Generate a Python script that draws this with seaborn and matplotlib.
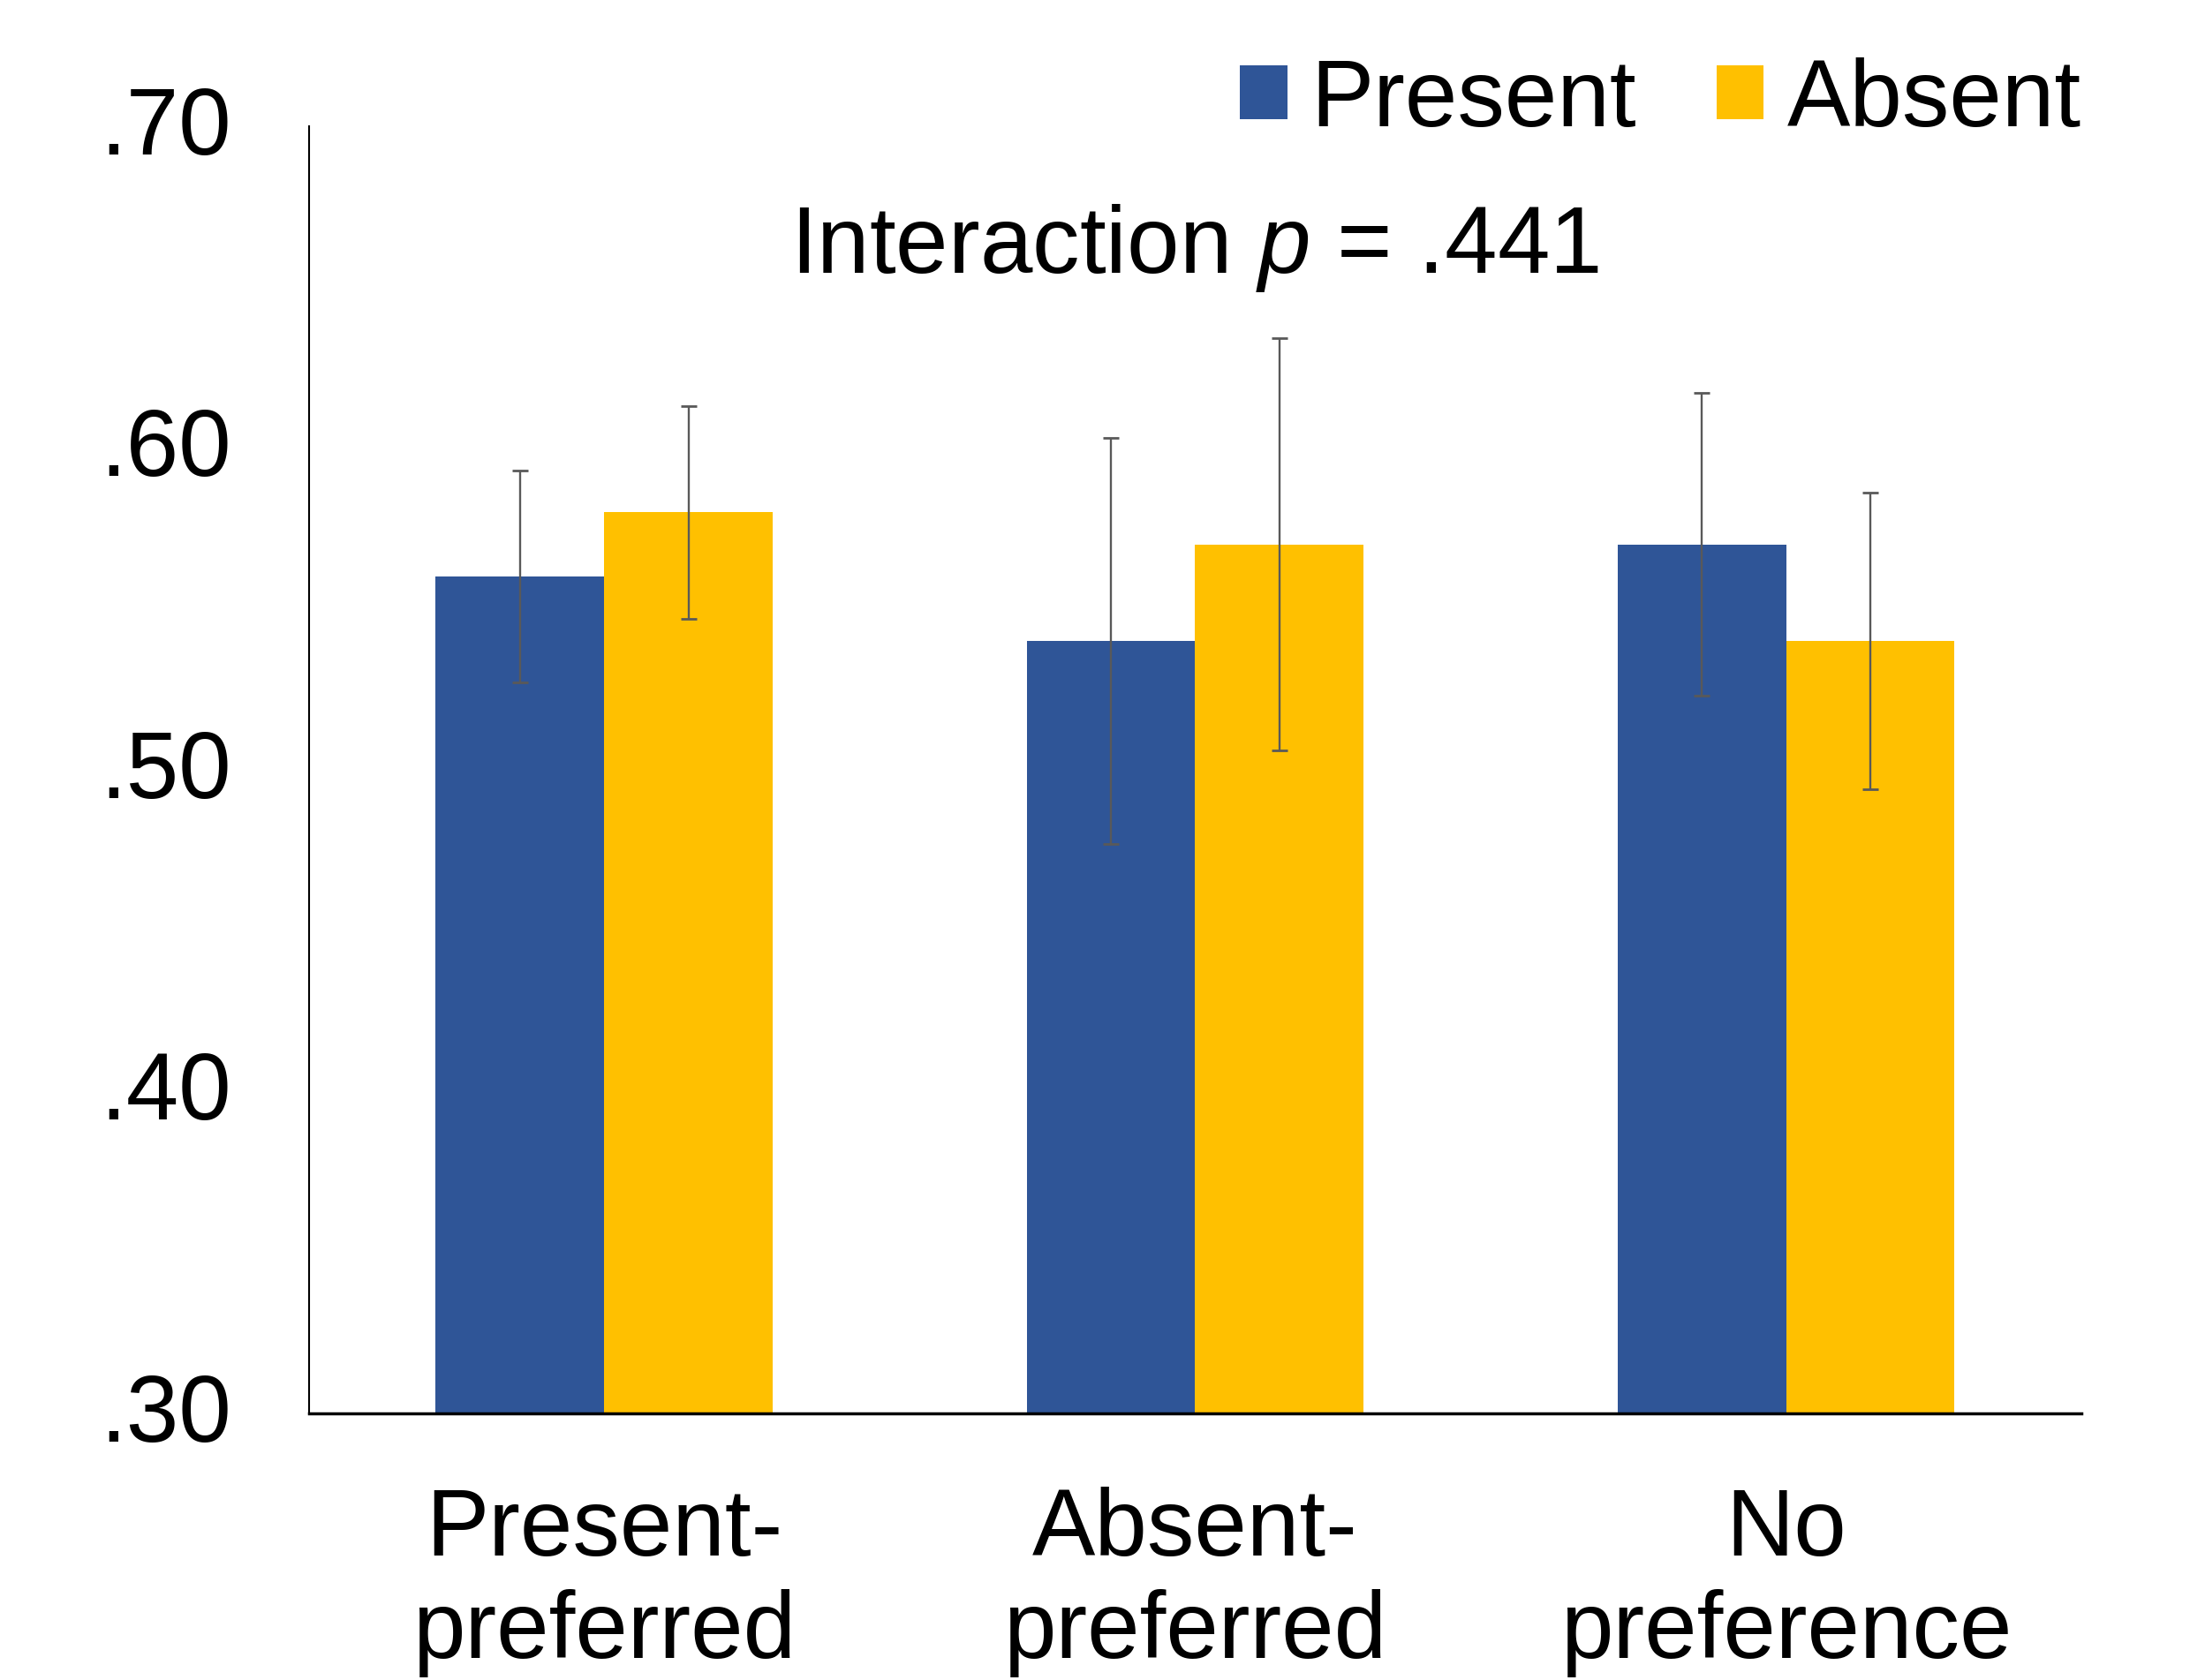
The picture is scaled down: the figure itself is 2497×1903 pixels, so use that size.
import numpy as np
import pandas as pd
import matplotlib
matplotlib.use("Agg")
import matplotlib.pyplot as plt
import matplotlib.transforms as mtransforms
from matplotlib.patches import Patch
import seaborn as sns

# === Données ===
categories = ["Present-\npreferred", "Absent-\npreferred", "No\npreference"]
series = ["Present", "Absent"]
present_means = [0.560, 0.540, 0.570]
absent_means = [0.580, 0.570, 0.540]
present_err = [0.033, 0.063, 0.047]
absent_err = [0.033, 0.064, 0.046]
y_ticks = [0.30, 0.40, 0.50, 0.60, 0.70]
y_ticklabels = [".30", ".40", ".50", ".60", ".70"]
colors = ["#2F5597", "#FFC000"]

df = pd.DataFrame({
    "condition": categories * 2,
    "series": [series[0]] * 3 + [series[1]] * 3,
    "value": present_means + absent_means,
    "err": present_err + absent_err,
})

sns.set_style("white")
plt.rcParams["font.family"] = ["Liberation Sans", "DejaVu Sans"]
plt.rcParams["mathtext.fontset"] = "custom"
plt.rcParams["mathtext.rm"] = "Liberation Sans"
plt.rcParams["mathtext.it"] = "Liberation Sans:italic"
plt.rcParams["text.color"] = "black"
plt.rcParams["xtick.color"] = "black"
plt.rcParams["ytick.color"] = "black"

fs = 77

fig = plt.figure(figsize=(24.97, 19.03), dpi=100)
ax = fig.add_axes([0.140, 0.1587, 0.804, 0.7663])

sns.barplot(data=df, x="condition", y="value", hue="series", hue_order=series,
            order=categories, palette=colors, width=0.57, errorbar=None,
            saturation=1, linewidth=0, ax=ax, legend=False)

# === Barres d'erreur ===
for patch, (_, row) in zip(ax.patches, df.iterrows()):
    xc = patch.get_x() + patch.get_width() / 2
    ax.errorbar(xc, row["value"], yerr=row["err"], fmt="none",
                ecolor="#595959", elinewidth=1.7, capsize=6.5, capthick=2)

ax.set_ylim(0.30, 0.70)
ax.set_xlim(-0.5, 2.5)
ax.set_yticks(y_ticks)
ax.set_yticklabels(y_ticklabels)
ax.tick_params(axis="y", length=0, pad=63, labelsize=fs, labelcolor="black")
ax.tick_params(axis="x", length=0, pad=60, labelsize=fs, labelcolor="black")
for lbl in ax.get_xticklabels():
    lbl.set_linespacing(1.2)
# petit décalage vers le haut des étiquettes Y
shift = mtransforms.ScaledTranslation(0, 5 / 72, fig.dpi_scale_trans)
for lbl in ax.get_yticklabels():
    lbl.set_transform(lbl.get_transform() + shift)
ax.set_xlabel("")
ax.set_ylabel("")

for side in ["top", "right"]:
    ax.spines[side].set_visible(False)
ax.spines["left"].set_color("black")
ax.spines["left"].set_linewidth(1.5)
ax.spines["bottom"].set_color("black")
ax.spines["bottom"].set_linewidth(2.5)

ax.text(0.5, 0.905, "Interaction $\\mathit{p}$ = .441", transform=ax.transAxes,
        ha="center", va="center", fontsize=fs)

handles = [Patch(facecolor=c, edgecolor="none") for c in colors]
ax.legend(handles, series, loc="lower right", bbox_to_anchor=(1.0, 0.985),
          ncol=2, frameon=False, fontsize=fs, borderpad=0, borderaxespad=0,
          handlelength=0.5, handleheight=0.5, handletextpad=0.25,
          columnspacing=0.85)

plt.savefig("out.png", dpi=100)
